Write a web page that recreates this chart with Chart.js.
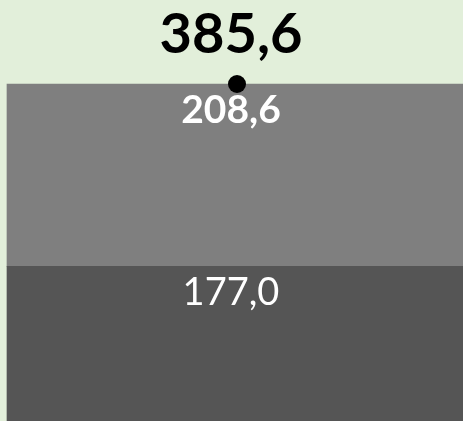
<!DOCTYPE html>
<html>
<head>
<meta charset="utf-8">
<script src="https://cdn.jsdelivr.net/npm/chart.js@4/dist/chart.umd.min.js"></script>
<style>
html,body{margin:0;padding:0;background:#E2EFDA;overflow:hidden;width:463px;height:421px;}
canvas{display:block;}
</style>
</head>
<body>
<canvas id="c" width="467" height="421"></canvas>
<script>
const categories = [""];
const lowerValues = [177.0];
const upperValues = [208.6];
const totalValues = [385.6];

const fmt = v => v.toFixed(1).replace('.', ',');

const labelPlugin = {
  id: 'labels',
  afterDatasetsDraw(chart) {
    const ctx = chart.ctx;
    ctx.save();
    ctx.textAlign = 'center';
    ctx.textBaseline = 'alphabetic';
    const xs = chart.scales.x, ys = chart.scales.y;
    categories.forEach((c, i) => {
      const cx = xs.getPixelForValue(i) - 6;
      ctx.fillStyle = '#ffffff';
      ctx.font = '38px Lato';
      ctx.fillText(fmt(lowerValues[i]), cx, ys.getPixelForValue(lowerValues[i]) + 39);
      ctx.font = 'bold 39px Lato';
      ctx.fillText(fmt(upperValues[i]), cx, ys.getPixelForValue(totalValues[i]) + 39);
      ctx.fillStyle = '#000000';
      ctx.font = 'bold 56px Lato';
      ctx.fillText(fmt(totalValues[i]), cx, ys.getPixelForValue(totalValues[i]) - 31);
    });
    ctx.restore();
  }
};

new Chart(document.getElementById('c'), {
  data: {
    labels: categories,
    datasets: [
      { type: 'line', data: totalValues, stack: 'total', showLine: false,
        pointRadius: 9, pointBackgroundColor: '#000', pointBorderWidth: 0 },
      { type: 'bar', data: lowerValues, stack: 'a', backgroundColor: '#555555',
        barPercentage: 1, categoryPercentage: 1 },
      { type: 'bar', data: upperValues, stack: 'a', backgroundColor: '#7F7F7F',
        barPercentage: 1, categoryPercentage: 1 }
    ]
  },
  options: {
    responsive: false,
    animation: false,
    layout: { autoPadding: false, padding: { left: 7, right: 0, top: 84, bottom: 0 } },
    plugins: { legend: { display: false }, tooltip: { enabled: false } },
    scales: {
      x: { display: false, stacked: true },
      y: { display: false, stacked: true, min: 0, max: 385.6 }
    },
    clip: false
  },
  plugins: [labelPlugin]
});
</script>
</body>
</html>
